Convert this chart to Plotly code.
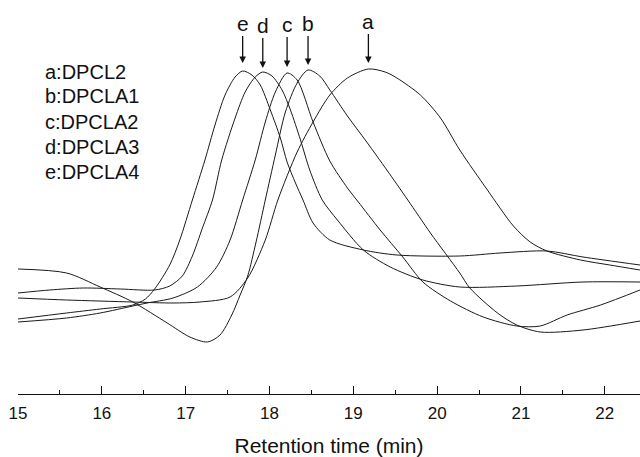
import plotly.graph_objects as go

# Retention time (min) and detector response (arbitrary units)
a_t = [15.00, 15.58, 16.37, 16.85, 17.17, 17.53, 17.74, 17.95, 18.10, 18.33, 18.52, 18.72, 18.93,
       19.18, 19.38, 19.52, 19.80, 20.04, 20.27, 20.60, 20.91, 21.11, 21.31, 21.71, 22.06, 22.42]
a_y = [96, 94, 92, 91, 92, 97, 116, 154, 194, 242, 272, 299, 316,
       325, 322, 316, 299, 276, 244, 204, 168, 152, 143, 134, 129, 124]

b_t = [15.00, 15.58, 15.98, 16.37, 16.78, 17.05, 17.26, 17.41, 17.55, 17.65, 17.74, 17.84, 17.95,
       18.07, 18.19, 18.33, 18.46, 18.60, 18.72, 18.93, 19.16, 19.40, 19.65, 19.92, 20.27, 20.39,
       20.72, 20.95, 21.23, 21.74, 22.42]
b_y = [125, 121, 107, 92, 71, 57, 52, 59, 79, 99, 118, 152, 194,
       239, 282, 311, 324, 318, 304, 278, 252, 224, 194, 161, 121, 106,
       81, 69, 62, 64, 73]

c_t = [15.00, 15.58, 15.98, 16.37, 16.54, 16.85, 17.14, 17.37, 17.53, 17.68, 17.83, 17.95, 18.07,
       18.21, 18.33, 18.52, 18.72, 18.93, 19.06, 19.32, 19.59, 19.83, 20.16, 20.55, 20.95, 21.23,
       21.55, 21.95, 22.42]
c_y = [72, 76, 81, 88, 91, 96, 107, 127, 154, 194, 234, 272, 302,
       321, 314, 272, 233, 206, 192, 164, 137, 112, 93, 77, 68, 68,
       79, 89, 104]

d_t = [15.00, 15.38, 15.78, 16.22, 16.63, 16.81, 16.96, 17.08, 17.20, 17.32, 17.43, 17.59, 17.71,
       17.83, 17.92, 18.03, 18.15, 18.25, 18.37, 18.48, 18.63, 18.81, 19.12, 19.44, 19.83, 20.27,
       20.95, 21.74, 22.42]
d_y = [101, 104, 106, 105, 104, 108, 118, 138, 166, 194, 234, 276, 302,
       317, 322, 318, 304, 284, 254, 224, 194, 174, 144, 127, 114, 107,
       108, 112, 112]

e_t = [15.00, 15.58, 15.98, 16.37, 16.52, 16.63, 16.81, 16.93, 17.08, 17.23, 17.35, 17.47, 17.59,
       17.68, 17.79, 17.89, 18.01, 18.13, 18.21, 18.31, 18.40, 18.52, 18.72, 19.12, 19.52, 20.27,
       20.75, 21.31, 21.74, 22.42]
e_y = [75, 81, 85, 89, 95, 105, 129, 154, 194, 234, 269, 299, 317,
       323, 319, 309, 284, 256, 232, 211, 194, 171, 154, 144, 139, 138,
       141, 143, 137, 129]

series = [("a", a_t, a_y), ("b", b_t, b_y), ("c", c_t, c_y), ("d", d_t, d_y), ("e", e_t, e_y)]

legend_lines = ["a:DPCL2", "b:DPCLA1", "c:DPCLA2", "d:DPCLA3", "e:DPCLA4"]
legend_y = [322, 298, 272, 247, 222]

peak_labels = ["e", "d", "c", "b", "a"]
peak_t = [17.68, 17.92, 18.21, 18.46, 19.18]
arrow_tip_y = [331, 326, 327, 329, 331]
arrow_len = [40, 43, 43, 42, 42]

x_ticks = [15, 16, 17, 18, 19, 20, 21, 22]

fig = go.Figure()
for name, t, y in series:
    fig.add_trace(go.Scatter(x=t, y=y, mode="lines", name=name,
                             line=dict(color="#1a1a1a", width=1, shape="spline", smoothing=0.8),
                             showlegend=False, hoverinfo="skip"))

for txt, yy in zip(legend_lines, legend_y):
    fig.add_annotation(x=15.30, y=yy, text=txt, showarrow=False, xanchor="left", yanchor="middle",
                       font=dict(family="Liberation Sans, Arial, sans-serif", size=20, color="#111"))

for lab, t, tip, ln in zip(peak_labels, peak_t, arrow_tip_y, arrow_len):
    fig.add_annotation(x=t, y=tip, text=lab, showarrow=True, ax=0, ay=-ln,
                       arrowhead=2, arrowsize=1, arrowwidth=1.3, arrowcolor="#111",
                       font=dict(family="Liberation Sans, Arial, sans-serif", size=21, color="#111"))

fig.update_layout(
    width=640, height=457,
    margin=dict(l=18, r=0, t=0, b=63),
    paper_bgcolor="white", plot_bgcolor="white",
    xaxis=dict(range=[15, 22.42], tickvals=x_ticks, ticktext=[str(v) for v in x_ticks],
               showline=True, linecolor="#111", linewidth=1,
               ticks="inside", ticklen=8, tickwidth=1, tickcolor="#111",
               minor=dict(ticks="inside", ticklen=4, tickwidth=1, tickcolor="#111", dtick=0.5, tick0=15, showgrid=False),
               showgrid=False, zeroline=False,
               tickfont=dict(family="Liberation Sans, Arial, sans-serif", size=17, color="#111"),
               ticklabelstandoff=4,
               title=dict(text="Retention time (min)", standoff=15,
                          font=dict(family="Liberation Sans, Arial, sans-serif", size=21, color="#111"))),
    yaxis=dict(range=[0, 394], visible=False, showgrid=False, zeroline=False),
)

fig.write_html("out.html")
